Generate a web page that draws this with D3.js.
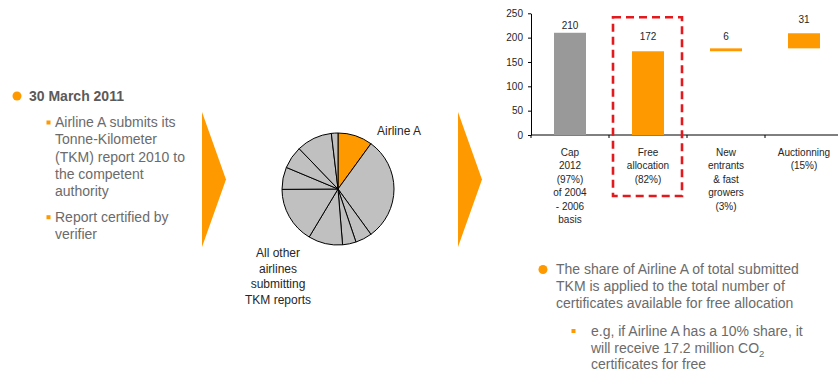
<!DOCTYPE html>
<html>
<head>
<meta charset="utf-8">
<script src="https://cdn.jsdelivr.net/npm/d3@7"></script>
<style>
  html, body { margin: 0; padding: 0; background: #fff; }
  svg { display: block; font-family: "Liberation Sans", Arial, sans-serif; }
</style>
</head>
<body>
<svg id="chart" width="838" height="371"></svg>
<script>
// ---- data ----
const categories = ["Cap", "Free allocation", "New entrants", "Auctionning"];
const categoryLines = [
  ["Cap", "2012", "(97%)", "of 2004", "- 2006", "basis"],
  ["Free", "allocation", "(82%)"],
  ["New", "entrants", "& fast", "growers", "(3%)"],
  ["Auctionning", "(15%)"]
];
const barValues = [210, 172, 6, 31];
const barKinds = ["total", "total", "step", "step"];
const yTicks = [0, 50, 100, 150, 200, 250];

const pieNames = ["Airline A", "o1", "o2", "o3", "o4", "o5", "o6", "o7", "o8", "o9"];
const pieShares = [10, 30, 4.8, 3.9, 9.9, 16.3, 6.4, 6.5, 10.3, 1.9];

const leftHeading = "30 March 2011";
const leftItems = [
  ["Airline A submits its", "Tonne-Kilometer", "(TKM) report 2010 to", "the competent", "authority"],
  ["Report certified by", "verifier"]
];
const rightLines = ["The share of Airline A of total submitted", "TKM is applied to the total number of", "certificates available for free allocation"];
const pieOtherLabel = ["All other", "airlines", "submitting", "TKM reports"];

// ---- styles ----
const ORANGE = "#FF9900";
const GREY_BAR = "#999999";
const GREY_PIE = "#C0C0C0";
const TEXT = "#6b6b6b";
const DARK = "#262626";

const svg = d3.select("#chart");

// ---- left text block ----
svg.append("circle").attr("cx", 17).attr("cy", 96).attr("r", 4.5).attr("fill", ORANGE);
svg.append("text").attr("x", 29).attr("y", 101)
  .attr("font-size", 14).attr("font-weight", "bold").attr("fill", "#5a5a5a")
  .text(leftHeading);

let by = 127;
leftItems.forEach(lines => {
  svg.append("rect").attr("x", 46.5).attr("y", by - 6.5).attr("width", 4).attr("height", 4).attr("fill", ORANGE);
  const t = svg.append("text").attr("x", 55).attr("y", by).attr("font-size", 14).attr("fill", TEXT);
  lines.forEach((ln, i) => t.append("tspan").attr("x", 55).attr("dy", i ? 17.3 : 0).text(ln));
  by += lines.length * 17.3 + 8.2;
});

// ---- chevrons ----
[202, 458].forEach(x0 => {
  svg.append("path")
    .attr("d", `M${x0},112 L${x0 + 24},179.5 L${x0},247 Z`)
    .attr("fill", ORANGE);
});

// ---- pie ----
const pieG = svg.append("g").attr("transform", "translate(338,189)");
const pie = d3.pie().sort(null).value(d => d)(pieShares);
const arc = d3.arc().innerRadius(0).outerRadius(56);
pieG.selectAll("path").data(pie).enter().append("path")
  .attr("d", arc)
  .attr("fill", (d, i) => i === 0 ? ORANGE : GREY_PIE)
  .attr("stroke", "#000").attr("stroke-width", 1).attr("stroke-linejoin", "round");

svg.append("text").attr("x", 377).attr("y", 135).attr("font-size", 12).attr("fill", DARK).text(pieNames[0]);
const po = svg.append("text").attr("x", 278).attr("y", 257).attr("font-size", 12)
  .attr("fill", DARK).attr("text-anchor", "middle");
pieOtherLabel.forEach((ln, i) => po.append("tspan").attr("x", 278).attr("dy", i ? 15.5 : 0).text(ln));

// ---- waterfall bar chart ----
const y = d3.scaleLinear().domain([0, 250]).range([135, 13.3]);
const x = d3.scaleBand().domain(categories).range([531, 843]).paddingInner(0.59).paddingOuter(0.295);
const step = x.step();
const x0 = 531;

// cumulative base for waterfall steps
let running = 0;
const bars = barValues.map((v, i) => {
  let lo, hi;
  if (barKinds[i] === "total") { lo = 0; hi = v; running = v; }
  else { lo = running; hi = running + v; running = hi; }
  return { cat: categories[i], v, lo, hi, i };
});

const chart = svg.append("g");

const yAxis = d3.axisLeft(y).tickValues(yTicks).tickSize(3).tickSizeOuter(0).tickPadding(5);
const gy = chart.append("g").attr("transform", `translate(${x0},0)`).call(yAxis);
gy.select(".domain").attr("stroke", "#000");
gy.selectAll(".tick line").attr("stroke", "#000");
gy.selectAll(".tick text").attr("font-size", 10).attr("fill", DARK).attr("font-family", "Liberation Sans, Arial, sans-serif");

// x axis line with ticks at category boundaries
chart.append("line").attr("x1", x0).attr("x2", 843).attr("y1", y(0)).attr("y2", y(0)).attr("stroke", "#000");
d3.range(categories.length + 1).forEach(k => {
  chart.append("line").attr("x1", x0 + k * step).attr("x2", x0 + k * step)
    .attr("y1", y(0)).attr("y2", y(0) + 3).attr("stroke", "#000");
});

chart.selectAll("rect.bar").data(bars).enter().append("rect")
  .attr("class", "bar")
  .attr("x", d => x(d.cat))
  .attr("width", x.bandwidth())
  .attr("y", d => y(d.hi))
  .attr("height", d => y(d.lo) - y(d.hi))
  .attr("fill", d => d.i === 0 ? GREY_BAR : ORANGE);

// value labels above the bars
const labelGap = [4, 11, 8, 10];
chart.selectAll("text.val").data(bars).enter().append("text")
  .attr("class", "val")
  .attr("x", d => x(d.cat) + x.bandwidth() / 2)
  .attr("y", d => y(d.hi) - labelGap[d.i])
  .attr("text-anchor", "middle").attr("font-size", 10).attr("fill", DARK)
  .text(d => d.v);

// category labels
categories.forEach((c, i) => {
  const t = chart.append("text").attr("x", x(c) + x.bandwidth() / 2).attr("y", 155.7)
    .attr("text-anchor", "middle").attr("font-size", 10).attr("fill", DARK);
  categoryLines[i].forEach((ln, j) => t.append("tspan").attr("x", x(c) + x.bandwidth() / 2).attr("dy", j ? 13.5 : 0).text(ln));
});

// dashed highlight around free allocation
const fx = x0 + step;
chart.append("rect")
  .attr("x", fx + 4).attr("y", y(250) + 4)
  .attr("width", step - 9).attr("height", 196 - (y(250) + 4))
  .attr("fill", "none").attr("stroke", "#E3191E").attr("stroke-width", 2.6)
  .attr("stroke-dasharray", "8,5");

// ---- right text block ----
svg.append("circle").attr("cx", 543).attr("cy", 269.5).attr("r", 4.5).attr("fill", ORANGE);
const rt = svg.append("text").attr("x", 556).attr("y", 274).attr("font-size", 14).attr("fill", TEXT);
rightLines.forEach((ln, i) => rt.append("tspan").attr("x", 556).attr("dy", i ? 17.2 : 0).text(ln));

svg.append("rect").attr("x", 571.5).attr("y", 329).attr("width", 4).attr("height", 4).attr("fill", ORANGE);
const st = svg.append("text").attr("x", 591).attr("y", 336.3).attr("font-size", 14).attr("fill", TEXT);
st.append("tspan").attr("x", 591).text("e.g, if Airline A has a 10% share, it");
st.append("tspan").attr("x", 591).attr("dy", 16.6).text("will receive 17.2 million CO");
st.append("tspan").attr("dy", 4).attr("font-size", 9.5).text("2");
st.append("tspan").attr("x", 591).attr("dy", 12.4).text("certificates for free");
</script>
</body>
</html>
